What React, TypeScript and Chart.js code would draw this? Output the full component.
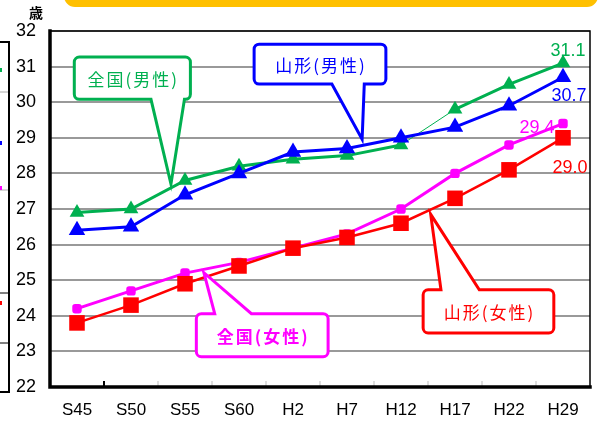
import React, { useEffect, useRef } from "react";
import { Chart, registerables } from "chart.js";

Chart.register(...registerables);

const categories = ["S45", "S50", "S55", "S60", "H2", "H7", "H12", "H17", "H22", "H29"];
const nationalMale = [26.9, 27.0, 27.8, 28.2, 28.4, 28.5, 28.8, 29.8, 30.5, 31.1];
const yamagataMale = [26.4, 26.5, 27.4, 28.0, 28.6, 28.7, 29.0, 29.3, 29.9, 30.7];
const nationalFemale = [24.2, 24.7, 25.2, 25.5, 25.9, 26.3, 27.0, 28.0, 28.8, 29.4];
const yamagataFemale = [23.8, 24.3, 24.9, 25.4, 25.9, 26.2, 26.6, 27.3, 28.1, 29.0];
const yMin = 22;
const yMax = 32;
const unitLabel = "歳";

const GREEN = "#00B050";
const BLUE = "#0000FF";
const MAGENTA = "#FF00FF";
const RED = "#FF0000";

const NUM_FONT = '"Liberation Sans", Arial, sans-serif';
const JP_FONT = '"Noto Sans CJK JP", sans-serif';

// callouts positioned in data space (category index, value)
const callouts = [
  { text: "全国(男性)", color: GREEN, bold: false, box: [-0.05, 2.1, 31.27, 30.08], base: [1.37, 1.99], tip: [1.74, 27.7], side: "bottom" },
  { text: "山形(男性)", color: BLUE, bold: false, box: [3.28, 5.72, 31.63, 30.51], base: [4.72, 5.32], tip: [5.28, 28.96], side: "bottom" },
  { text: "山形(女性)", color: RED, bold: false, box: [6.41, 8.83, 24.73, 23.52], base: [6.74, 7.45], tip: [6.55, 26.85], side: "top" },
  { text: "全国(女性)", color: MAGENTA, bold: true, box: [2.21, 4.65, 24.06, 22.85], base: [2.55, 3.23], tip: [2.35, 25.21], side: "top" },
];

const endLabels = [
  { ds: 3, color: GREEN, dx: 5, dy: -12 },
  { ds: 2, color: BLUE, dx: 6, dy: 19 },
  { ds: 1, color: MAGENTA, dx: -26, dy: 4 },
  { ds: 0, color: RED, dx: 7, dy: 30 },
];

const decorPlugin = {
  id: "decor",
  beforeDraw(chart: any) {
    const ctx = chart.ctx;
    ctx.save();
    ctx.fillStyle = "#FFC000";
    ctx.beginPath();
    (ctx as any).roundRect(64, -30, 534, 37, 11);
    ctx.fill();
    ctx.strokeStyle = "#000";
    ctx.lineWidth = 2;
    ctx.strokeRect(-5, 42, 14, 350);
    ctx.strokeStyle = "#aaa";
    ctx.lineWidth = 1;
    [92, 190].forEach((y) => {
      ctx.beginPath();
      ctx.moveTo(0, y);
      ctx.lineTo(8, y);
      ctx.stroke();
    });
    ctx.strokeStyle = "#000";
    [293, 343].forEach((y) => {
      ctx.beginPath();
      ctx.moveTo(0, y);
      ctx.lineTo(8, y);
      ctx.stroke();
    });
    const dots: [string, number][] = [[GREEN, 70], [BLUE, 143], [MAGENTA, 188], [RED, 303]];
    dots.forEach(([c, y]) => {
      ctx.fillStyle = c;
      ctx.fillRect(0, y - 2, 2, 4);
    });
    ctx.fillStyle = "#000";
    ctx.font = `bold 14px ${JP_FONT}`;
    ctx.textAlign = "center";
    ctx.textBaseline = "middle";
    ctx.fillText(unitLabel, 36, 13);
    ctx.restore();
  },
  beforeDatasetsDraw(chart: any) {
    const { ctx, chartArea: a, scales } = chart;
    const x = scales.x;
    ctx.save();
    ctx.strokeStyle = "#000";
    ctx.lineWidth = 1.5;
    ctx.beginPath();
    ctx.moveTo(a.left, a.top);
    ctx.lineTo(a.right, a.top);
    ctx.lineTo(a.right, a.bottom);
    ctx.stroke();
    for (let i = 0; i < categories.length - 1; i++) {
      const px = (x.getPixelForValue(i) + x.getPixelForValue(i + 1)) / 2;
      ctx.strokeStyle = i === 0 ? "#000" : "#bbb";
      ctx.lineWidth = i === 0 ? 2 : 1;
      ctx.beginPath();
      ctx.moveTo(px, a.bottom);
      ctx.lineTo(px, a.bottom - 6);
      ctx.stroke();
    }
    ctx.lineWidth = 3.5;
    ctx.strokeStyle = "#000";
    ctx.lineCap = "square";
    ctx.beginPath();
    ctx.moveTo(a.left, a.top);
    ctx.lineTo(a.left, a.bottom);
    ctx.lineTo(a.right, a.bottom);
    ctx.stroke();
    ctx.restore();
  },
  afterDatasetsDraw(chart: any) {
    const { ctx, scales } = chart;
    const xs = scales.x;
    const ys = scales.y;
    const X = (v: number) => xs.getPixelForValue(0) + v * (xs.getPixelForValue(1) - xs.getPixelForValue(0));
    const Y = (v: number) => ys.getPixelForValue(v);
    ctx.save();
    callouts.forEach((c) => {
      const x0 = X(c.box[0]), x1 = X(c.box[1]), y0 = Y(c.box[2]), y1 = Y(c.box[3]);
      const b0 = X(c.base[0]), b1 = X(c.base[1]);
      const tx = X(c.tip[0]), ty = Y(c.tip[1]);
      const r = 5;
      ctx.beginPath();
      ctx.moveTo(x0 + r, y0);
      if (c.side === "top") {
        ctx.lineTo(b0, y0);
        ctx.lineTo(tx, ty);
        ctx.lineTo(b1, y0);
      }
      ctx.lineTo(x1 - r, y0);
      ctx.arcTo(x1, y0, x1, y0 + r, r);
      ctx.lineTo(x1, y1 - r);
      ctx.arcTo(x1, y1, x1 - r, y1, r);
      if (c.side === "bottom") {
        ctx.lineTo(b1, y1);
        ctx.lineTo(tx, ty);
        ctx.lineTo(b0, y1);
      }
      ctx.lineTo(x0 + r, y1);
      ctx.arcTo(x0, y1, x0, y1 - r, r);
      ctx.lineTo(x0, y0 + r);
      ctx.arcTo(x0, y0, x0 + r, y0, r);
      ctx.closePath();
      ctx.fillStyle = "#fff";
      ctx.fill();
      ctx.lineWidth = 3;
      ctx.lineJoin = "miter";
      ctx.strokeStyle = c.color;
      ctx.stroke();
      ctx.fillStyle = c.color;
      ctx.font = `${c.bold ? "bold " : ""}17px ${JP_FONT}`;
      (ctx as any).letterSpacing = "2px";
      ctx.textAlign = "center";
      ctx.textBaseline = "middle";
      ctx.fillText(c.text, (x0 + x1) / 2 + 1, (y0 + y1) / 2 + 1);
      (ctx as any).letterSpacing = "0px";
    });
    endLabels.forEach((l) => {
      const meta = chart.getDatasetMeta(l.ds);
      const pt = meta.data[meta.data.length - 1];
      const v = chart.data.datasets[l.ds].data[meta.data.length - 1] as number;
      ctx.fillStyle = l.color;
      ctx.font = `18px ${NUM_FONT}`;
      ctx.textAlign = "center";
      ctx.textBaseline = "middle";
      ctx.fillText(v.toFixed(1), pt.x + l.dx, pt.y + l.dy);
    });
    ctx.restore();
  },
};

export default function App() {
  const ref = useRef<HTMLCanvasElement>(null);
  useEffect(() => {
    if (!ref.current) return;
    const chart = new Chart(ref.current, {
      type: "line",
      data: {
        labels: categories,
        datasets: [
          {
            label: "山形(女性)",
            data: yamagataFemale,
            borderColor: RED,
            backgroundColor: RED,
            borderWidth: 2.5,
            pointStyle: "rect",
            pointRadius: 11,
            pointBorderWidth: 0,
          },
          {
            label: "全国(女性)",
            data: nationalFemale,
            borderColor: MAGENTA,
            backgroundColor: MAGENTA,
            borderWidth: 3,
            pointStyle: "rectRounded",
            pointRadius: 5.5,
            pointBorderWidth: 0,
          },
          {
            label: "山形(男性)",
            data: yamagataMale,
            borderColor: BLUE,
            backgroundColor: BLUE,
            borderWidth: 3,
            pointStyle: "triangle",
            pointRadius: 9.5,
            pointBorderWidth: 0,
          },
          {
            label: "全国(男性)",
            data: nationalMale,
            borderColor: GREEN,
            backgroundColor: GREEN,
            borderWidth: 3,
            pointStyle: "triangle",
            pointRadius: 8.5,
            pointBorderWidth: 0,
            segment: {
              borderWidth: (c: any) => (c.p0DataIndex === 6 ? 1 : 3),
            },
          },
        ],
      },
      options: {
        animation: false,
        responsive: false,
        layout: { padding: { top: 31, right: 3, left: 0, bottom: 0 } },
        plugins: { legend: { display: false }, tooltip: { enabled: false } },
        elements: { line: { tension: 0 } },
        scales: {
          x: {
            offset: true,
            border: { display: false },
            grid: { display: false, drawTicks: false },
            ticks: { color: "#000", font: { family: NUM_FONT, size: 17 }, padding: 13, maxRotation: 0, autoSkip: false },
            afterFit: (s: any) => {
              s.height = 34;
            },
          },
          y: {
            min: yMin,
            max: yMax,
            border: { display: false },
            grid: { color: "#999", lineWidth: 2, drawTicks: false },
            ticks: { stepSize: 1, color: "#000", font: { family: NUM_FONT, size: 18 }, padding: 14 },
            afterFit: (s: any) => {
              s.width = 50;
            },
          },
        },
      },
      plugins: [decorPlugin],
    });
    return () => chart.destroy();
  }, []);
  return (
    <div style={{ position: "fixed", left: 0, top: 0, width: 601, height: 421, background: "#fff" }}>
      <canvas ref={ref} width={601} height={421} style={{ display: "block", width: 601, height: 421 }} />
    </div>
  );
}
